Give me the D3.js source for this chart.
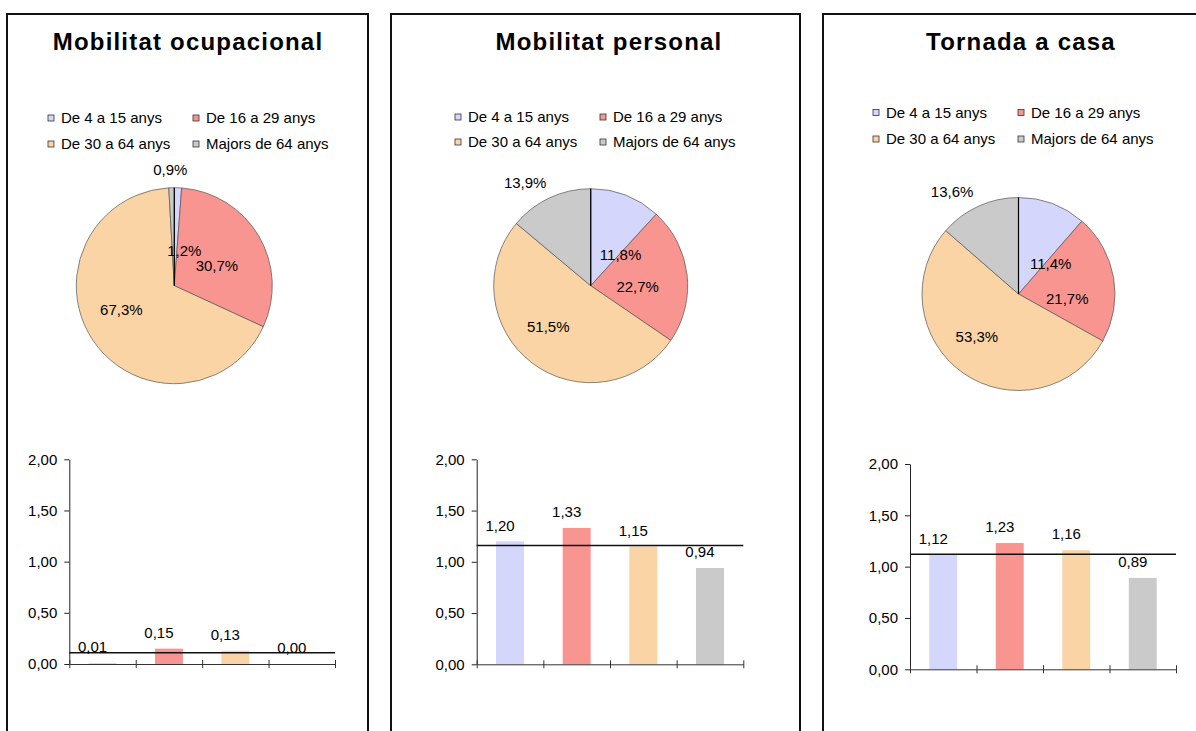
<!DOCTYPE html>
<meta charset="utf-8">
<html>
<head>
  <title>Mobilitat per edats</title>
  <script src="https://cdn.jsdelivr.net/npm/d3@7"></script>
  <style>
    body { margin: 0; background: #fff; }
    svg text { font-family: "Liberation Sans", Arial, sans-serif; fill: #000; }
  </style>
</head>
<body>
  <svg id="svg" width="1196" height="731"></svg>

  <script>
    // Data
    var ageGroups = ["De 4 a 15 anys", "De 16 a 29 anys", "De 30 a 64 anys", "Majors de 64 anys"];
    var titles = ["Mobilitat ocupacional", "Mobilitat personal", "Tornada a casa"];
    var shareOcupacional = [1.2, 30.7, 67.3, 0.9];
    var sharePersonal = [11.8, 22.7, 51.5, 13.9];
    var shareTornada = [11.4, 21.7, 53.3, 13.6];
    var ratioOcupacional = [0.01, 0.15, 0.13, 0.00];
    var ratioPersonal = [1.20, 1.33, 1.15, 0.94];
    var ratioTornada = [1.12, 1.23, 1.16, 0.89];
    var ratioAverage = [0.11, 1.16, 1.12];
    var yTicks = [0, 0.5, 1, 1.5, 2];

    var colors = ["#d4d6fc", "#f99591", "#fad4a4", "#cacaca"];

    // Layout of each panel (positions only)
    var layout = [
      { left: 7, right: 368, titleX: 188, legendX: 48, legendY: [123, 149],
        pie: [174.3, 285.7, 98], labelAt: [[16, 36], [65, 47], [246, 58], [-2, 116]],
        bars: { x0: 69.3, x1: 335, y0: 664, y2: 459.3 } },
      { left: 391, right: 800, titleX: 609, legendX: 455, legendY: [122, 147],
        pie: [590.7, 285.7, 97], labelAt: [[44, 43], [91, 47], [226, 59], [327.5, 122]],
        bars: { x0: 476.7, x1: 743.3, y0: 664.3, y2: 459.3 } },
      { left: 823, right: 1215, titleX: 1021, legendX: 873, legendY: [117.5, 144],
        pie: [1018.5, 294, 96.5], labelAt: [[47, 44], [96, 49], [224, 60], [327, 122]],
        bars: { x0: 910, x1: 1176, y0: 669.3, y2: 464 } }
    ];

    var shares = [shareOcupacional, sharePersonal, shareTornada];
    var ratios = [ratioOcupacional, ratioPersonal, ratioTornada];

    var svg = d3.select("#svg");

    function comma(v, n) {
      return v.toFixed(n).replace(".", ",");
    }

    layout.forEach(function (L, p) {
      var g = svg.append("g");

      // panel frame
      g.append("rect")
        .attr("x", L.left)
        .attr("y", 14)
        .attr("width", L.right - L.left)
        .attr("height", 740)
        .attr("fill", "none")
        .attr("stroke", "#111")
        .attr("stroke-width", 2);

      // title
      g.append("text")
        .attr("x", L.titleX)
        .attr("y", 50)
        .attr("text-anchor", "middle")
        .style("font-size", "24px")
        .style("font-weight", "bold")
        .style("letter-spacing", "1.2px")
        .text(titles[p]);

      // legend
      var leg = g.selectAll(".leg")
        .data(ageGroups)
        .enter()
        .append("g")
        .attr("transform", function (d, i) {
          return "translate(" + (L.legendX + (i % 2) * 145) + "," + L.legendY[Math.floor(i / 2)] + ")";
        });
      leg.append("rect")
        .attr("x", 0)
        .attr("y", -8)
        .attr("width", 6)
        .attr("height", 6)
        .attr("fill", function (d, i) { return colors[i]; })
        .attr("stroke", "#333")
        .attr("stroke-width", 0.8);
      leg.append("text")
        .attr("x", 13)
        .attr("y", 0)
        .style("font-size", "15px")
        .text(function (d) { return d; });

      // pie
      var cx = L.pie[0], cy = L.pie[1], r = L.pie[2];
      var pie = d3.pie().sort(null).value(function (d) { return d; });
      var arc = d3.arc().innerRadius(0).outerRadius(r);
      var pg = g.append("g").attr("transform", "translate(" + cx + "," + cy + ")");
      pg.selectAll("path")
        .data(pie(shares[p]))
        .enter()
        .append("path")
        .attr("d", arc)
        .attr("fill", function (d, i) { return colors[i]; })
        .attr("stroke", "#555")
        .attr("stroke-width", 0.7);
      var top = d3.pointRadial(0, r);
      pg.append("line")
        .attr("x1", 0).attr("y1", 0)
        .attr("x2", top[0]).attr("y2", top[1])
        .attr("stroke", "#000")
        .attr("stroke-width", 1.2);
      pg.selectAll(".plabel")
        .data(shares[p])
        .enter()
        .append("text")
        .attr("class", "plabel")
        .attr("transform", function (d, i) {
          var pt = d3.pointRadial(L.labelAt[i][0] * Math.PI / 180, L.labelAt[i][1]);
          return "translate(" + pt[0] + "," + pt[1] + ")";
        })
        .attr("text-anchor", "middle")
        .attr("dy", "0.35em")
        .style("font-size", "15px")
        .text(function (d) { return comma(d, 1) + "%"; });

      // bar chart
      var B = L.bars;
      var y = d3.scaleLinear().domain([0, 2]).range([B.y0, B.y2]);
      var x = d3.scaleBand()
        .domain(d3.range(ageGroups.length))
        .range([B.x0, B.x1])
        .paddingInner(0.58)
        .paddingOuter(0.29);
      var xEdge = d3.scaleLinear().domain([0, ageGroups.length]).range([B.x0, B.x1]);

      g.selectAll(".bar")
        .data(ratios[p])
        .enter()
        .append("rect")
        .attr("x", function (d, i) { return x(i); })
        .attr("y", function (d) { return y(d); })
        .attr("width", x.bandwidth())
        .attr("height", function (d) { return B.y0 - y(d); })
        .attr("fill", function (d, i) { return colors[i]; });

      var yAxis = g.append("g")
        .attr("transform", "translate(" + B.x0 + ",0)")
        .call(d3.axisLeft(y)
          .tickValues(yTicks)
          .tickSize(5)
          .tickSizeOuter(0)
          .tickPadding(7)
          .tickFormat(function (d) { return comma(d, 2); }));
      yAxis.selectAll("text").style("font-size", "15px").attr("fill", "#000")
        .style("font-family", "'Liberation Sans', Arial, sans-serif");
      yAxis.selectAll("line, path").attr("stroke", "#222");

      var xAxis = g.append("g")
        .attr("transform", "translate(0," + B.y0 + ")")
        .call(d3.axisBottom(xEdge)
          .tickValues(d3.range(ageGroups.length + 1))
          .tickSizeOuter(0)
          .tickFormat(""));
      xAxis.selectAll(".tick line").attr("y1", -4).attr("y2", 4);
      xAxis.selectAll("line, path").attr("stroke", "#333");

      // average line
      g.append("line")
        .attr("x1", B.x0)
        .attr("x2", B.x1)
        .attr("y1", y(ratioAverage[p]))
        .attr("y2", y(ratioAverage[p]))
        .attr("stroke", "#111")
        .attr("stroke-width", 1.5);

      // value labels
      g.selectAll(".vlabel")
        .data(ratios[p])
        .enter()
        .append("text")
        .attr("x", function (d, i) { return x(i) + x.bandwidth() / 2 - 10; })
        .attr("y", function (d) { return y(d) - 16; })
        .attr("dy", "0.35em")
        .attr("text-anchor", "middle")
        .style("font-size", "15px")
        .text(function (d) { return comma(d, 2); });
    });
  </script>
</body>
</html>
